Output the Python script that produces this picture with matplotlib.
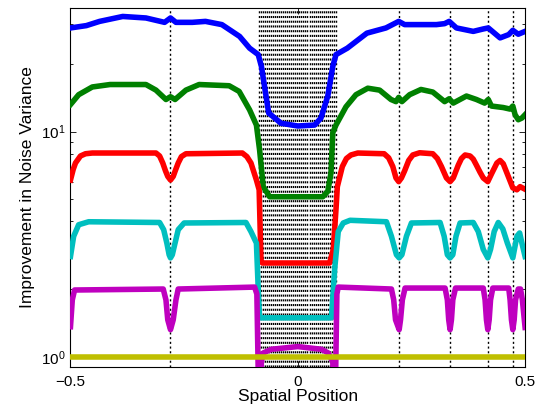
import matplotlib
matplotlib.use("Agg")
import matplotlib.pyplot as plt
import numpy as np

plt.rcParams['font.family'] = ['Liberation Sans', 'DejaVu Sans']
plt.rcParams['mathtext.default'] = 'regular'

# boundaries drawn as dotted verticals
boundaries = [-0.28, 0.222, 0.335, 0.418, 0.473]
dense_lo, dense_hi, dense_n = -0.086, 0.084, 39

blue_x = [-0.5, -0.465, -0.436, -0.385, -0.334, -0.293, -0.28, -0.268, -0.232, -0.203,
          -0.167, -0.128, -0.106, -0.087, -0.080, -0.071, -0.064, -0.0595, -0.037, 0.0,
          0.037, 0.051, 0.066, 0.077, 0.084, 0.109, 0.152, 0.194, 0.222, 0.235, 0.305,
          0.323, 0.333, 0.349, 0.386, 0.408, 0.419, 0.445, 0.464, 0.473, 0.485, 0.5]
blue_y = [28.9, 29.6, 30.9, 32.5, 32.0, 30.6, 32.0, 30.6, 30.6, 30.9,
          29.9, 26.5, 23.5, 22.0, 19.5, 14.9, 12.1, 11.9, 10.9, 10.6,
          10.7, 11.5, 14.4, 19.5, 22.0, 23.5, 27.4, 28.9, 30.9, 29.9, 29.9,
          30.2, 30.9, 28.9, 27.9, 28.6, 28.9, 26.1, 27.0, 28.2, 27.1, 27.9]

green_x = [-0.5, -0.482, -0.452, -0.413, -0.334, -0.312, -0.29, -0.28, -0.27, -0.246,
           -0.217, -0.151, -0.129, -0.106, -0.091, -0.084, -0.076, -0.062, 0.055, 0.066,
           0.073, 0.077, 0.084, 0.106, 0.128, 0.154, 0.18, 0.205, 0.216, 0.222, 0.229,
           0.246, 0.271, 0.297, 0.323, 0.333, 0.342, 0.371, 0.393, 0.411, 0.419, 0.426,
           0.452, 0.467, 0.473, 0.478, 0.485, 0.493, 0.5]
green_y = [13.2, 14.6, 15.8, 16.2, 16.2, 15.3, 13.9, 14.3, 13.9, 15.3,
           16.2, 16.0, 15.1, 12.5, 10.7, 8.3, 5.7, 5.14, 5.14, 5.43,
           6.55, 9.9, 10.7, 12.9, 14.6, 15.6, 15.3, 13.9, 13.6, 14.2, 13.6,
           14.6, 15.4, 15.0, 13.6, 14.0, 13.4, 14.4, 13.9, 13.4, 13.9, 13.0,
           12.8, 12.6, 13.0, 11.9, 11.3, 11.5, 11.9]

red_x = [-0.5, -0.494, -0.489, -0.478, -0.467, -0.452, -0.312, -0.304, -0.297, -0.291,
         -0.286, -0.28, -0.274, -0.269, -0.263, -0.256, -0.246, -0.122, -0.112, -0.103,
         -0.091, -0.085, -0.081, -0.078, 0.07, 0.078, 0.084, 0.087, 0.098, 0.107,
         0.117, 0.132, 0.19, 0.2, 0.209, 0.216, 0.222, 0.228, 0.235, 0.244, 0.253,
         0.268, 0.297, 0.307, 0.316, 0.327, 0.335, 0.342, 0.353, 0.36, 0.368, 0.379,
         0.386, 0.393, 0.401, 0.408, 0.418, 0.427, 0.438, 0.445, 0.452, 0.463, 0.473,
         0.482, 0.489, 0.5]
red_y = [6.1, 6.8, 7.26, 7.8, 7.98, 8.04, 8.04, 7.8, 7.26, 6.7,
         6.33, 6.1, 6.33, 6.75, 7.26, 7.75, 7.98, 8.04, 7.75, 7.26,
         6.1, 5.52, 2.7, 2.61, 2.61, 2.99, 4.5, 5.7, 7.0, 7.6,
         7.88, 8.04, 7.98, 7.65, 7.0, 6.23, 6.0, 6.23, 6.7, 7.45, 7.88,
         8.06, 7.98, 7.6, 7.0, 6.23, 6.0, 6.23, 7.1, 7.6, 7.88, 7.8,
         7.55, 7.1, 6.6, 6.23, 6.0, 6.55, 7.26, 7.45, 7.2, 6.33, 5.63,
         5.52, 5.7, 5.55]

cyan_x = [-0.5, -0.493, -0.482, -0.46, -0.304, -0.295, -0.288, -0.283, -0.28, -0.276,
          -0.27, -0.263, -0.25, -0.114, -0.103, -0.091, -0.087, -0.084, 0.074, 0.0815,
          0.089, 0.1, 0.115, 0.195, 0.206, 0.217, 0.223, 0.229, 0.239, 0.25, 0.313,
          0.322, 0.329, 0.335, 0.341, 0.348, 0.357, 0.386, 0.397, 0.408, 0.418, 0.424,
          0.432, 0.441, 0.451, 0.461, 0.473, 0.482, 0.488, 0.493, 0.5]
cyan_y = [2.79, 3.43, 3.86, 3.98, 3.95, 3.67, 3.2, 2.84, 2.75, 2.84,
          3.2, 3.67, 3.93, 3.95, 3.6, 3.2, 2.0, 1.49, 1.49, 2.5,
          3.6, 3.93, 4.04, 3.98, 3.43, 2.84, 2.75, 2.84, 3.43, 3.93, 3.95,
          3.43, 2.84, 2.75, 2.84, 3.43, 3.93, 3.95, 3.6, 3.0, 2.75, 3.0,
          3.6, 3.95, 3.7, 3.2, 2.75, 3.43, 3.55, 3.2, 2.79]

magenta_x = [-0.5, -0.496, -0.491, -0.296, -0.29, -0.286, -0.28, -0.274, -0.268, -0.263,
             -0.095, -0.09, -0.085, -0.080, -0.076, -0.058, 0.0, 0.052, 0.067, 0.077,
             0.0815, 0.086, 0.089, 0.206, 0.211, 0.215, 0.223, 0.226, 0.23, 0.236,
             0.324, 0.329, 0.332, 0.335, 0.338, 0.341, 0.347, 0.408, 0.412, 0.415,
             0.418, 0.421, 0.424, 0.429, 0.464, 0.467, 0.47, 0.473, 0.476, 0.479,
             0.485, 0.49, 0.494, 0.5]
magenta_y = [1.36, 1.79, 1.98, 2.0, 1.79, 1.46, 1.32, 1.46, 1.79, 2.0,
             2.04, 1.9, 0.5, 0.95, 1.04, 1.08, 1.11, 1.08, 1.04, 0.95,
             0.5, 1.9, 2.04, 2.0, 1.79, 1.46, 1.32, 1.46, 1.79, 2.02,
             2.02, 1.79, 1.46, 1.32, 1.46, 1.79, 2.02, 2.02, 1.79, 1.46,
             1.32, 1.46, 1.79, 2.02, 2.02, 1.79, 1.46, 1.32, 1.46, 1.79,
             2.0, 2.0, 1.79, 1.35]

yellow_x = [-0.5, 0.5]
yellow_y = [1.0, 1.0]

series = [
    (blue_x, blue_y, 'b'),
    (green_x, green_y, 'g'),
    (red_x, red_y, 'r'),
    (cyan_x, cyan_y, 'c'),
    (magenta_x, magenta_y, 'm'),
    (yellow_x, yellow_y, 'y'),
]

fig = plt.figure(figsize=(5.38, 4.12), dpi=100)
ax = fig.add_axes([0.131, 0.109, 0.845, 0.872])

dotted = (0, (1.5, 1.9))
for xb in boundaries:
    ax.axvline(xb, color='k', lw=1.0, linestyle=dotted, zorder=1)
for xb in np.linspace(dense_lo, dense_hi, dense_n):
    ax.axvline(xb, color='k', lw=1.0, linestyle=dotted, zorder=1)

for xs, ys, col in series:
    ax.plot(xs, ys, color=col, lw=4, solid_joinstyle='round', zorder=3)

ax.set_yscale('log')
ax.set_xlim(-0.5, 0.5)
ax.set_ylim(0.9, 35.5)
ax.set_xticks([-0.5, 0, 0.5])
ax.set_xticklabels(['\u22120.5', '0', '0.5'])
ax.tick_params(which='both', direction='in', top=True, right=True, labelsize=11)
ax.tick_params(axis='x', pad=6)
ax.tick_params(which='major', length=4.5, width=0.6)
ax.tick_params(which='minor', length=2.5, width=0.6)
for s in ax.spines.values():
    s.set_linewidth(0.8)

ax.set_xlabel('Spatial Position', fontsize=12.5, labelpad=0)
ax.set_ylabel('Improvement in Noise Variance', fontsize=12.5, labelpad=4)

fig.savefig('out.png', dpi=100)
